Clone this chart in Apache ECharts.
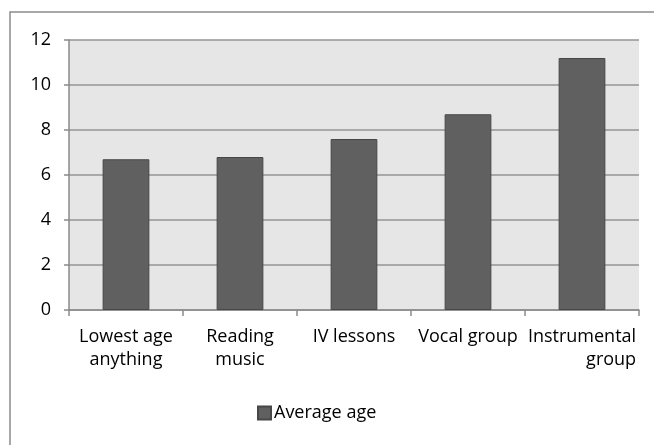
<!DOCTYPE html>
<html>
<head>
<meta charset="utf-8">
<script src="https://cdn.jsdelivr.net/npm/echarts@6/dist/echarts.min.js"></script>
<style>
  html, body { margin: 0; padding: 0; background: #fff; }
  #chart { width: 654px; height: 445px; }
</style>
</head>
<body>
<div id="chart"></div>
<script>
// Average age at which pupils start each musical activity
const categories = ['Lowest age\nanything', 'Reading\nmusic', 'IV lessons', 'Vocal group', 'Instrumental\ngroup'];
const averageAge = [6.7, 6.8, 7.6, 8.7, 11.2];
const seriesName = 'Average age';
const yTicks = { min: 0, max: 12, interval: 2 };

const FONT = '"Open Sans", "Noto Sans", sans-serif';

const chart = echarts.init(document.getElementById('chart'), null, { renderer: 'canvas' });

// The last label sits against the plot's right edge, so its second line is right-aligned.
function formatCategory(value, index) {
  const lines = value.split('\n');
  if (index === categories.length - 1 && lines.length > 1) {
    return '{c|' + lines[0] + '}\n{r|' + lines.slice(1).join('\n') + '}';
  }
  return value;
}

chart.setOption({
  animation: false,
  backgroundColor: '#ffffff',
  graphic: [{
    type: 'rect',
    shape: { x: 10, y: 12, width: 700, height: 500 },
    style: { fill: 'none', stroke: '#8c8c8c', lineWidth: 1.5 },
    silent: true,
    z: -10
  }],
  grid: {
    left: 69, right: 15, top: 40, bottom: 135,
    show: true,
    backgroundColor: '#e6e6e6',
    borderWidth: 0
  },
  legend: {
    data: [seriesName],
    left: 252,
    top: 399,
    icon: 'rect',
    itemWidth: 13,
    itemHeight: 13,
    itemGap: 10,
    textStyle: { fontFamily: FONT, fontSize: 18, color: '#000', padding: [0, 0, 0, -2] }
  },
  xAxis: {
    type: 'category',
    data: categories,
    axisLine: { show: true, lineStyle: { color: '#8a8a8a', width: 1.5 } },
    axisTick: { show: true, alignWithLabel: false, length: 6, lineStyle: { color: '#8a8a8a', width: 1.5 } },
    axisLabel: {
      interval: 0,
      margin: 15,
      fontFamily: FONT,
      fontSize: 18,
      lineHeight: 23,
      color: '#000',
      formatter: formatCategory,
      rich: {
        c: { fontFamily: FONT, fontSize: 18, lineHeight: 23, color: '#000', align: 'center' },
        r: { fontFamily: FONT, fontSize: 18, lineHeight: 23, color: '#000', align: 'right' }
      }
    },
    splitLine: { show: false }
  },
  yAxis: {
    type: 'value',
    min: yTicks.min,
    max: yTicks.max,
    interval: yTicks.interval,
    axisLine: { show: true, lineStyle: { color: '#8a8a8a', width: 1.5 } },
    axisTick: { show: true, length: 5, lineStyle: { color: '#8a8a8a', width: 1.5 } },
    axisLabel: { margin: 18, fontFamily: FONT, fontSize: 18, color: '#000' },
    splitLine: { show: true, lineStyle: { color: '#959595', width: 1.5 } }
  },
  series: [{
    name: seriesName,
    type: 'bar',
    data: averageAge,
    barWidth: '41%',
    itemStyle: { color: '#606060', borderColor: '#474747', borderWidth: 1 }
  }]
});
</script>
</body>
</html>
